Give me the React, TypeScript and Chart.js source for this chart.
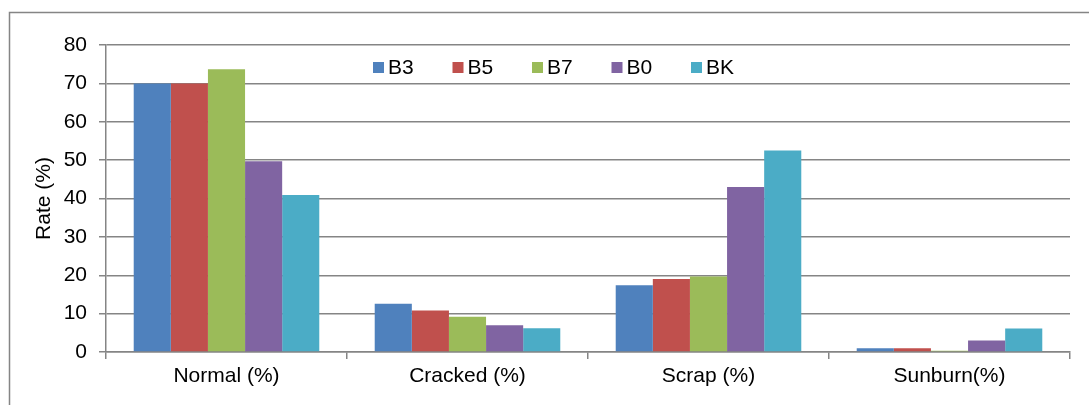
import React, { useEffect, useRef } from "react";
import { Chart, registerables } from "chart.js";

Chart.register(...registerables);

const categories = ["Normal (%)", "Cracked (%)", "Scrap (%)", "Sunburn(%)"];
const seriesNames = ["B3", "B5", "B7", "B0", "BK"];
const b3 = [70, 12.6, 17.4, 1.0];
const b5 = [70, 10.8, 19.0, 1.0];
const b7 = [73.7, 9.2, 19.7, 0.3];
const b0 = [49.7, 7.0, 43.0, 3.0];
const bk = [40.9, 6.2, 52.5, 6.1];
const colors = ["#4F81BD", "#C0504D", "#9BBB59", "#8064A2", "#4BACC6"];
const yTicks = [0, 10, 20, 30, 40, 50, 60, 70, 80];

const FONT = "'Liberation Sans', Arial, sans-serif";
const GRID = "#858585";

const frameAndLegend = {
  id: "frameAndLegend",
  afterDraw(chart: any) {
    const ctx = chart.ctx;
    ctx.save();
    ctx.strokeStyle = GRID;
    ctx.lineWidth = 1.5;
    ctx.strokeRect(9.5, 12.5, 1300, 600);
    // legend
    ctx.font = `21px ${FONT}`;
    ctx.textBaseline = "middle";
    ctx.textAlign = "left";
    const startX = 373;
    const step = 79.5;
    chart.data.datasets.forEach((ds: any, i: number) => {
      const x = startX + i * step;
      ctx.fillStyle = ds.backgroundColor;
      ctx.fillRect(x, 62, 11, 11);
      ctx.fillStyle = "#000";
      ctx.fillText(ds.label, x + 15, 68);
    });
    ctx.restore();
  },
};

export default function App() {
  const ref = useRef<HTMLCanvasElement | null>(null);
  useEffect(() => {
    if (!ref.current) return;
    const series = [b3, b5, b7, b0, bk];
    const chart = new Chart(ref.current, {
      type: "bar",
      data: {
        labels: categories,
        datasets: series.map((d, i) => ({
          label: seriesNames[i],
          data: d,
          backgroundColor: colors[i],
          borderWidth: 0,
          categoryPercentage: 0.77,
          barPercentage: 1.0,
        })),
      },
      options: {
        animation: false,
        responsive: true,
        maintainAspectRatio: false,
        layout: { padding: { top: 45, right: 19, left: 0, bottom: 0 } },
        plugins: {
          legend: { display: false },
          tooltip: { enabled: false },
        },
        scales: {
          x: {
            afterFit: (s: any) => {
              s.height = 53;
            },
            grid: {
              offset: true,
              drawOnChartArea: false,
              drawTicks: true,
              tickLength: 7,
              color: GRID,
              lineWidth: 1.5,
            },
            border: { display: true, color: GRID, width: 1.5 },
            ticks: {
              color: "#000",
              font: { family: FONT, size: 21 },
              padding: 5,
              maxRotation: 0,
            },
          },
          y: {
            min: 0,
            max: 80,
            afterFit: (s: any) => {
              s.width = 106;
            },
            afterBuildTicks: (s: any) => {
              s.ticks = yTicks.map((v) => ({ value: v }));
            },
            grid: {
              color: GRID,
              lineWidth: 1.5,
              drawTicks: true,
              tickLength: 7,
            },
            border: { display: true, color: GRID, width: 1.5 },
            ticks: {
              color: "#000",
              font: { family: FONT, size: 21 },
              padding: 12,
            },
            title: {
              display: true,
              text: "Rate (%)",
              color: "#000",
              font: { family: FONT, size: 21 },
              padding: { top: 32, bottom: 0 },
            },
          },
        },
      },
      plugins: [frameAndLegend],
    });
    return () => chart.destroy();
  }, []);
  return (
    <div style={{ position: "absolute", left: 0, top: 0, width: 1089, height: 405, background: "#fff" }}>
      <canvas ref={ref} />
    </div>
  );
}
